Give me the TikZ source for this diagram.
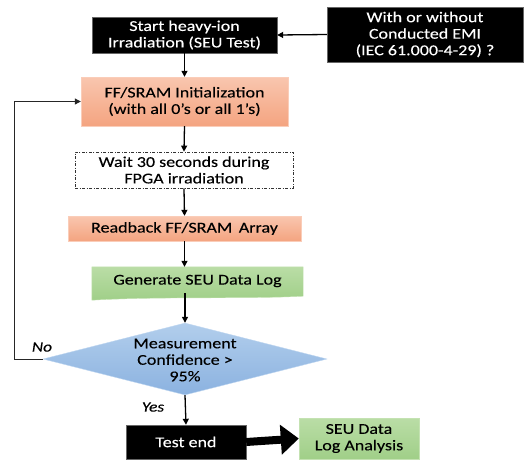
\documentclass[tikz,border=0pt]{standalone}
\usepackage{fontspec}
\setmainfont[FakeStretch=1.2,FakeBold=0.2]{Carlito}
\usetikzlibrary{arrows.meta,shapes.geometric}

\definecolor{salmonTop}{RGB}{249,198,175}
\definecolor{salmonBot}{RGB}{244,164,128}
\definecolor{salmonEdge}{RGB}{250,205,185}
\definecolor{greenTop}{RGB}{186,221,166}
\definecolor{greenBot}{RGB}{160,207,136}
\definecolor{greenEdge}{RGB}{196,226,178}
\definecolor{blueTop}{RGB}{178,206,236}
\definecolor{blueBot}{RGB}{139,178,224}
\definecolor{blueEdge}{RGB}{190,214,240}

\tikzset{
  txt/.style={font=\fontsize{15pt}{16.5pt}\selectfont, align=center, inner sep=0pt},
  darkbox/.style={txt, rectangle, fill=black, draw=black!60, text=white},
  salmonbox/.style={txt, rectangle, top color=salmonTop, bottom color=salmonBot, draw=salmonEdge},
  greenbox/.style={txt, rectangle, top color=greenTop, bottom color=greenBot, draw=greenEdge},
  waitbox/.style={txt, rectangle, draw=black!80, line width=0.8pt,
                  dash pattern=on 3pt off 1.5pt on 1pt off 1.5pt},
  decision/.style={diamond, inner sep=0pt, top color=blueTop, bottom color=blueBot, draw=blueEdge},
  flow/.style={line width=1.3pt, -{Triangle[length=6pt,width=6pt]}},
  back/.style={line width=1pt, draw=black!85, -{Triangle[length=6pt,width=6pt]}},
  bigarrow/.style={line width=8pt, -{Triangle[length=18pt,width=29pt]}},
  lbl/.style={font=\fontsize{14.5pt}{16pt}\selectfont\itshape, inner sep=0pt}
}

\begin{document}
\begin{tikzpicture}[x=1pt, y=-1pt]
  \useasboundingbox (0,0) rectangle (528,459);

  % process boxes
  \node[darkbox, minimum width=185pt, minimum height=36pt] (start) at (184.5,35)
       {Start heavy-ion\\Irradiation (SEU Test)};
  \node[darkbox, minimum width=196pt, minimum height=55pt] (emi) at (425,34.5)
       {With or without\\Conducted EMI\\(IEC 61.000-4-29) ?};
  \node[salmonbox, minimum width=207pt, minimum height=49pt] (init) at (184.5,101.5)
       {FF/SRAM Initialization\\(with all 0’s or all 1’s)};
  \node[waitbox, minimum width=218pt, minimum height=36pt] (wait) at (184,170)
       {Wait 30 seconds during\\FPGA irradiation};
  \node[salmonbox, minimum width=233pt, minimum height=25pt] (readback) at (184.5,228.5)
       {Readback FF/SRAM\, Array};

  % document-style box with a wavy lower edge
  \node[txt, minimum width=211pt, minimum height=28pt] (gen) at (197.5,281) {};
  \path[top color=greenTop, bottom color=greenBot, draw=greenEdge]
       (gen.north west) -- (gen.north east) -- ([yshift=-1pt]gen.south east)
       .. controls ([xshift=-60pt,yshift=-4pt]gen.south east)
       and ([xshift=70pt,yshift=-1pt]gen.south west) .. ([yshift=-5pt]gen.south west)
       -- cycle;
  \node[txt] (gentext) at (gen) {Generate SEU Data Log};

  % decision
  \node[decision, minimum width=284pt, minimum height=72pt] (dec) at (185,359) {};
  \node[txt] (dectext) at (185,360) {Measurement\\Confidence >\\95\%};

  % end boxes
  \node[darkbox, minimum width=120pt, minimum height=34pt] (end) at (186,442) {Test end};
  \node[greenbox, minimum width=120pt, minimum height=41pt] (seu) at (359,438.5)
       {SEU Data\\Log Analysis};

  % connectors
  \draw[flow] (emi.west) -- (start.east);
  \draw[flow] (start.south) -- (init.north);
  \draw[flow] (init.south) -- (wait.north);
  \draw[flow] (wait.south) -- (readback.north);
  \draw[flow] (readback.south) -- (readback.south |- gen.north);
  \draw[flow] (dec.north |- gen.south) ++(0,2pt) -- (dec.north);
  \draw[flow] (dec.south) -- (end.north);
  \draw[bigarrow] (end.east) -- (seu.west);
  \draw[back] (dec.west) -- ++(-28,0) coordinate (loopc) |- (init.west);

  % branch labels
  \node[lbl] (no) at (42,347) {No};
  \node[lbl] (yes) at (153,407) {Yes};
\end{tikzpicture}
\end{document}
